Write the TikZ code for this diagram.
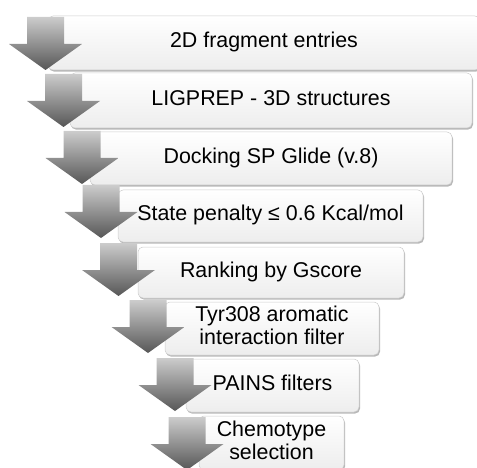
\documentclass[tikz,border=0pt]{standalone}
\usepackage{fontspec}
\setmainfont{Liberation Sans}
\usetikzlibrary{shadows}
\newcommand{\stepline}[1]{\strut #1}
\begin{document}
\begin{tikzpicture}[x=1pt, y=-1pt,
  stepbox/.style={rectangle, rounded corners=5pt, inner sep=0pt,
    draw=gray!40, line width=0.5pt,
    top color=white, bottom color=gray!14,
    drop shadow={shadow xshift=1pt, shadow yshift=-1.6pt, fill=gray!70, opacity=0.8},
    font=\fontsize{21.4}{23}\selectfont, align=center, text=black},
  arrowfill/.style={top color=black!20, bottom color=black!66, draw=none},
  downarr/.pic={\path[arrowfill] (-18.5,0) -- (18.5,0) -- (18.5,27) -- (36.5,27)
      -- (0,53) -- (-36.5,27) -- (-18.5,27) -- cycle;}
]
\useasboundingbox (0,0) rectangle (477,468);

% process steps: boxes
\node[stepbox, minimum width=432pt, minimum height=54pt] (s1) at (264,43)   {\stepline{2D fragment entries}};
\node[stepbox, minimum width=402pt, minimum height=55pt] (s2) at (271,100.5) {\stepline{LIGPREP - 3D structures}};
\node[stepbox, minimum width=362pt, minimum height=53pt] (s3) at (271,158.5) {\stepline{Docking SP Glide (v.8)}};
\node[stepbox, minimum width=305pt, minimum height=52pt] (s4) at (270.5,216) {\stepline{State penalty ≤ 0.6 Kcal/mol}};
\node[stepbox, minimum width=266pt, minimum height=51pt] (s5) at (271,272.5) {\stepline{Ranking by Gscore}};
\node[stepbox, minimum width=214pt, minimum height=53pt] (s6) at (272,328.5) {\stepline{Tyr308 aromatic}\\\stepline{interaction filter}};
\node[stepbox, minimum width=173pt, minimum height=53pt] (s7) at (272.5,385.5) {\stepline{PAINS filters}};
\node[stepbox, minimum width=145pt, minimum height=54pt] (s8) at (271.5,443) {\stepline{Chemotype}\\\stepline{selection}};

% down arrows on the left end of each step
\pic at (45.5,17)  {downarr};
\pic at (63.5,74)  {downarr};
\pic at (82,131)   {downarr};
\pic at (101,185)  {downarr};
\pic at (118.5,243) {downarr};
\pic at (148,300)  {downarr};
\pic at (175,358)  {downarr};
\pic at (187,417)  {downarr};
\end{tikzpicture}
\end{document}
